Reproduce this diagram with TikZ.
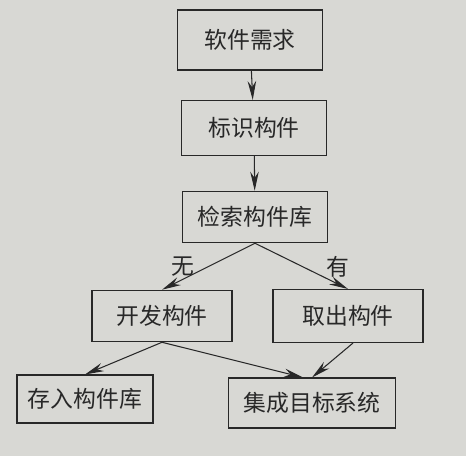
\documentclass[tikz,border=0pt]{standalone}
\usepackage{fontspec}
\newfontfamily\cjk{Noto Sans CJK SC}
\usepackage{xcolor}
\usepackage{tikz}
\usetikzlibrary{arrows.meta,positioning}

\definecolor{paper}{RGB}{216,216,212}
\definecolor{ink}{RGB}{40,40,40}

\begin{document}
\begin{tikzpicture}[
  x=0.02cm, y=-0.02cm,
  >={Stealth[length=3.8mm,width=1.7mm]},
  font=\cjk\fontsize{13}{15}\selectfont,
  box/.style={
    rectangle, draw=ink, line width=0.6pt, fill=paper,
    minimum width=2.9cm, minimum height=1.03cm, align=center,
    inner sep=2pt, text=ink
  },
  flow/.style={->, line width=0.6pt, color=ink},
  lbl/.style={text=ink, inner sep=1pt}
]
% paper background fixes the margins
\fill[paper] (0,0) rectangle (466,456);
\useasboundingbox (0,0) rectangle (466,456);

% main column
\node[box, minimum height=1.2cm] (req) at (250,40) {软件需求};
\node[box, minimum height=1.1cm] (ident) at (254,128) {标识构件};
\node[box] (search) at (255,217) {检索构件库};

% branch row
\node[box, minimum width=2.8cm] (dev) at (162,316) {开发构件};
\node[box, minimum width=3.0cm, minimum height=1.06cm] (fetch) at (348,316) {取出构件};

% bottom row
\node[box, minimum width=2.72cm, minimum height=0.96cm] (store) at (85,399) {存入构件库};
\node[box, minimum width=3.34cm, minimum height=1.0cm] (integ) at (312,403) {集成目标系统};

% flow arrows
\draw[flow] (req) -- (ident);
\draw[flow] (ident) -- (search);
\draw[flow] (search.south) -- (dev.north);
\draw[flow] (search.south) -- (fetch.north);
\draw[flow] (dev.south) -- (store.north);
\draw[flow] (dev.south) -- ([xshift=-0.18cm]integ.north);
\draw[flow] ([xshift=0.1cm]fetch.south) -- (integ.north);

% branch labels
\node[lbl] (none) at (183,267) {无};
\node[lbl] (have) at (338,267) {有};

\end{tikzpicture}
\end{document}
